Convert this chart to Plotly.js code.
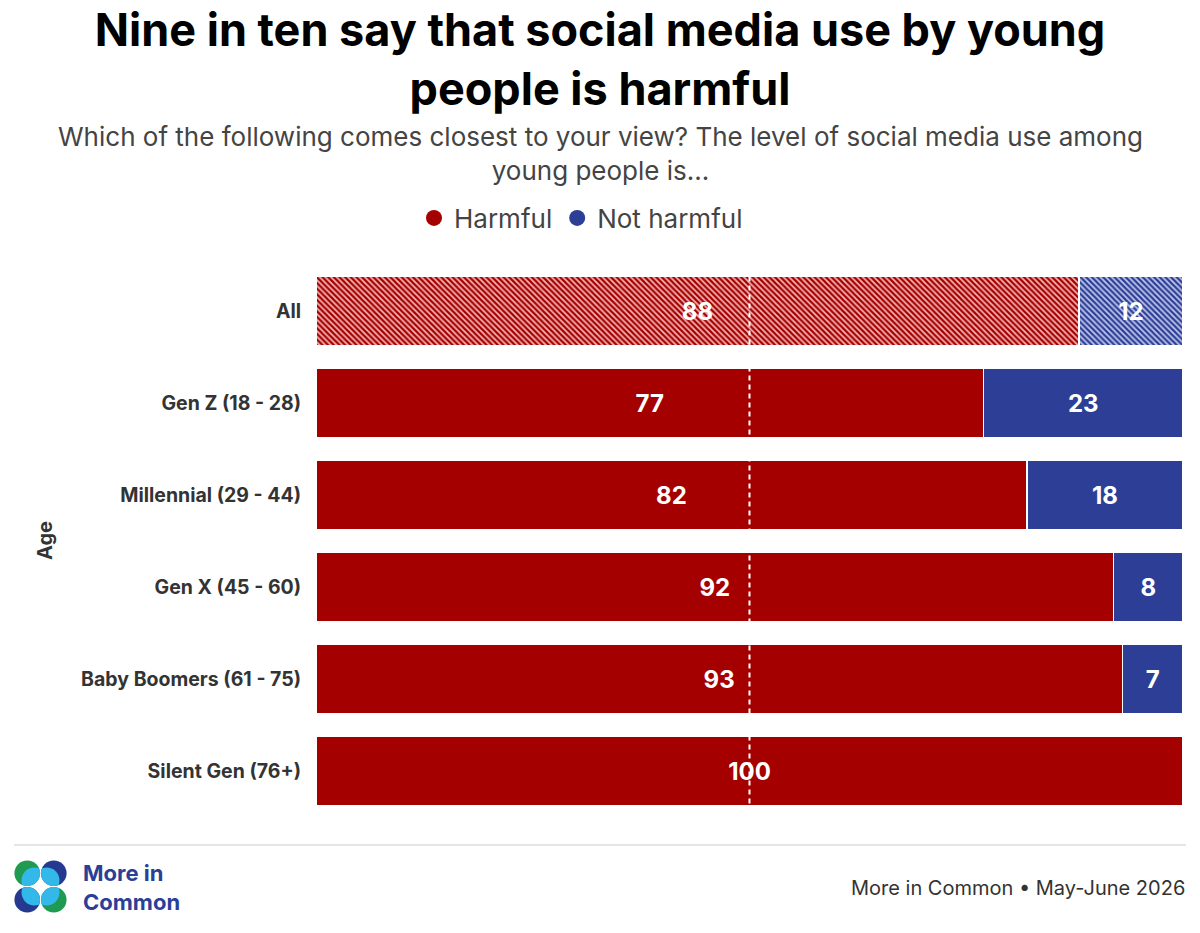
<!DOCTYPE html>
<html>
<head>
<meta charset="utf-8">
<script src="https://cdn.plot.ly/plotly-3.0.1.min.js"></script>
<style>html,body{margin:0;padding:0;background:#fff;}#chart{width:1200px;height:933px;}</style>
</head>
<body>
<div id="chart"></div>
<script>
const categories = ['All','Gen Z (18 - 28)','Millennial (29 - 44)','Gen X (45 - 60)','Baby Boomers (61 - 75)','Silent Gen (76+)'];
const harmful = [88,77,82,92,93,100];
const notHarmful = [12,23,18,8,7,0];
const hatched = [true,false,false,false,false,false];
const seriesNames = ['Harmful','Not harmful'];
const titleText = 'Nine in ten say that social media use by young<br>people is harmful';
const subtitleText = 'Which of the following comes closest to your view? The level of social media use among<br>young people is...';
const sourceText = 'More in Common • May-June 2026';
const logoText = 'More in<br>Common';
const axisTitle = 'Age';
const midline = 50;

const RED = '#a50000', BLUE = '#2d3e96';
const FONT = 'Inter, "Open Sans", sans-serif';

function barTrace(vals, name, color, lightColor) {
  return {
    type: 'bar', orientation: 'h', name: name, y: categories, x: vals,
    showlegend: false, hoverinfo: 'skip',
    text: vals.map(v => v > 0 ? String(v) : ''),
    textposition: 'inside', insidetextanchor: 'middle', textangle: 0,
    textfont: {family: FONT, size: 24, color: '#ffffff', weight: 'bold'},
    marker: {
      color: color,
      line: {color: '#ffffff', width: 1.5},
      pattern: {
        shape: hatched.map(h => h ? '\\' : ''),
        fgcolor: color, bgcolor: lightColor, size: 4, solidity: 0.55, fillmode: 'replace'
      }
    }
  };
}

const data = [
  barTrace(harmful, seriesNames[0], RED, '#f3b4b4'),
  barTrace(notHarmful, seriesNames[1], BLUE, '#c0c7ec'),
  {type:'scatter', mode:'markers', x:[null], y:[null], name: seriesNames[0], marker:{color:RED, size:20, symbol:'circle'}, hoverinfo:'skip'},
  {type:'scatter', mode:'markers', x:[null], y:[null], name: seriesNames[1], marker:{color:BLUE, size:20, symbol:'circle'}, hoverinfo:'skip'}
];

const W = 1200, H = 933, L = 316, R = 17, T = 265, B = 116;
const pw = W - L - R, ph = H - T - B;
const px = x => (x - L) / pw;          // page x -> paper
const py = y => (H - B - y) / ph;      // page y -> paper

const logoSvg = '<svg xmlns="http://www.w3.org/2000/svg" viewBox="0 0 52 52">' +
 '<defs>' +
 '<clipPath id="a"><circle cx="13" cy="13" r="12.6"/></clipPath>' +
 '<clipPath id="b"><circle cx="39" cy="13" r="12.6"/></clipPath>' +
 '<clipPath id="c"><circle cx="13" cy="39" r="12.6"/></clipPath>' +
 '<clipPath id="d"><circle cx="39" cy="39" r="12.6"/></clipPath>' +
 '</defs>' +
 '<circle cx="13" cy="13" r="12.6" fill="#1f9a50"/>' +
 '<circle cx="39" cy="13" r="12.6" fill="#24398f"/>' +
 '<circle cx="13" cy="39" r="12.6" fill="#24398f"/>' +
 '<circle cx="39" cy="39" r="12.6" fill="#1f9a50"/>' +
 '<circle cx="20" cy="20" r="12.6" fill="#33b8ea" clip-path="url(#a)"/>' +
 '<circle cx="32" cy="20" r="12.6" fill="#33b8ea" clip-path="url(#b)"/>' +
 '<circle cx="20" cy="32" r="12.6" fill="#33b8ea" clip-path="url(#c)"/>' +
 '<circle cx="32" cy="32" r="12.6" fill="#33b8ea" clip-path="url(#d)"/>' +
 '</svg>';

const layout = {
  width: W, height: H,
  margin: {l: L, r: R, t: T, b: B, pad: 0},
  paper_bgcolor: '#ffffff', plot_bgcolor: '#ffffff',
  font: {family: FONT, color: '#333333'},
  barmode: 'stack', bargap: 0.25,
  title: {
    text: titleText, x: 0.5, xref: 'container', xanchor: 'center',
    y: 1 - 46/H, yref: 'container', yanchor: 'middle',
    font: {family: FONT, size: 45, color: '#000000', weight: 'bold'}
  },
  xaxis: {range: [0, 100], visible: false, fixedrange: true},
  yaxis: {
    type: 'category', autorange: 'reversed', showgrid: false, zeroline: false, showline: false,
    ticks: 'outside', ticklen: 10, tickcolor: 'rgba(0,0,0,0)',
    tickfont: {family: FONT, size: 19.5, color: '#333333', weight: 'bold'}, fixedrange: true
  },
  legend: {
    orientation: 'h', traceorder: 'normal', xref: 'container', x: (600 - 19) / W, xanchor: 'center',
    yref: 'container', y: 1 - 218/H, yanchor: 'middle',
    font: {family: FONT, size: 26, color: '#444444'}, itemclick: false, itemdoubleclick: false
  },
  shapes: [
    {type: 'line', xref: 'x', yref: 'y', x0: midline, x1: midline, y0: -0.375, y1: 5.375, layer: 'above',
     line: {color: '#ffffff', width: 2, dash: '5px,4px'}},
    {type: 'line', xref: 'paper', yref: 'paper', x0: px(14), x1: px(1186), y0: py(845), y1: py(845),
     line: {color: '#dddddd', width: 1.5}}
  ],
  images: [
    {source: 'data:image/svg+xml;charset=utf-8,' + encodeURIComponent(logoSvg),
     xref: 'paper', yref: 'paper', x: px(14), y: py(860), sizex: 53/pw, sizey: 53/ph,
     xanchor: 'left', yanchor: 'top', sizing: 'stretch', layer: 'above'}
  ],
  annotations: [
    {text: subtitleText, xref: 'paper', yref: 'paper', x: px(600), y: py(153), xanchor: 'center', yanchor: 'middle',
     showarrow: false, align: 'center', font: {family: FONT, size: 26, color: '#444444'}},
    {text: axisTitle, xref: 'paper', yref: 'paper', x: px(45), y: py(541), xanchor: 'center', yanchor: 'middle',
     textangle: -90, showarrow: false, font: {family: FONT, size: 20, color: '#333333', weight: 'bold'}},
    {text: logoText, xref: 'paper', yref: 'paper', x: px(81), y: py(887), xanchor: 'left', yanchor: 'middle',
     showarrow: false, align: 'left', font: {family: FONT, size: 22, color: '#2b3f97', weight: 'bold'}},
    {text: sourceText, xref: 'paper', yref: 'paper', x: px(1187), y: py(888), xanchor: 'right', yanchor: 'middle',
     showarrow: false, font: {family: FONT, size: 20, color: '#333333'}}
  ]
};

Plotly.newPlot('chart', data, layout, {displayModeBar: false, staticPlot: true});
</script>
</body>
</html>
